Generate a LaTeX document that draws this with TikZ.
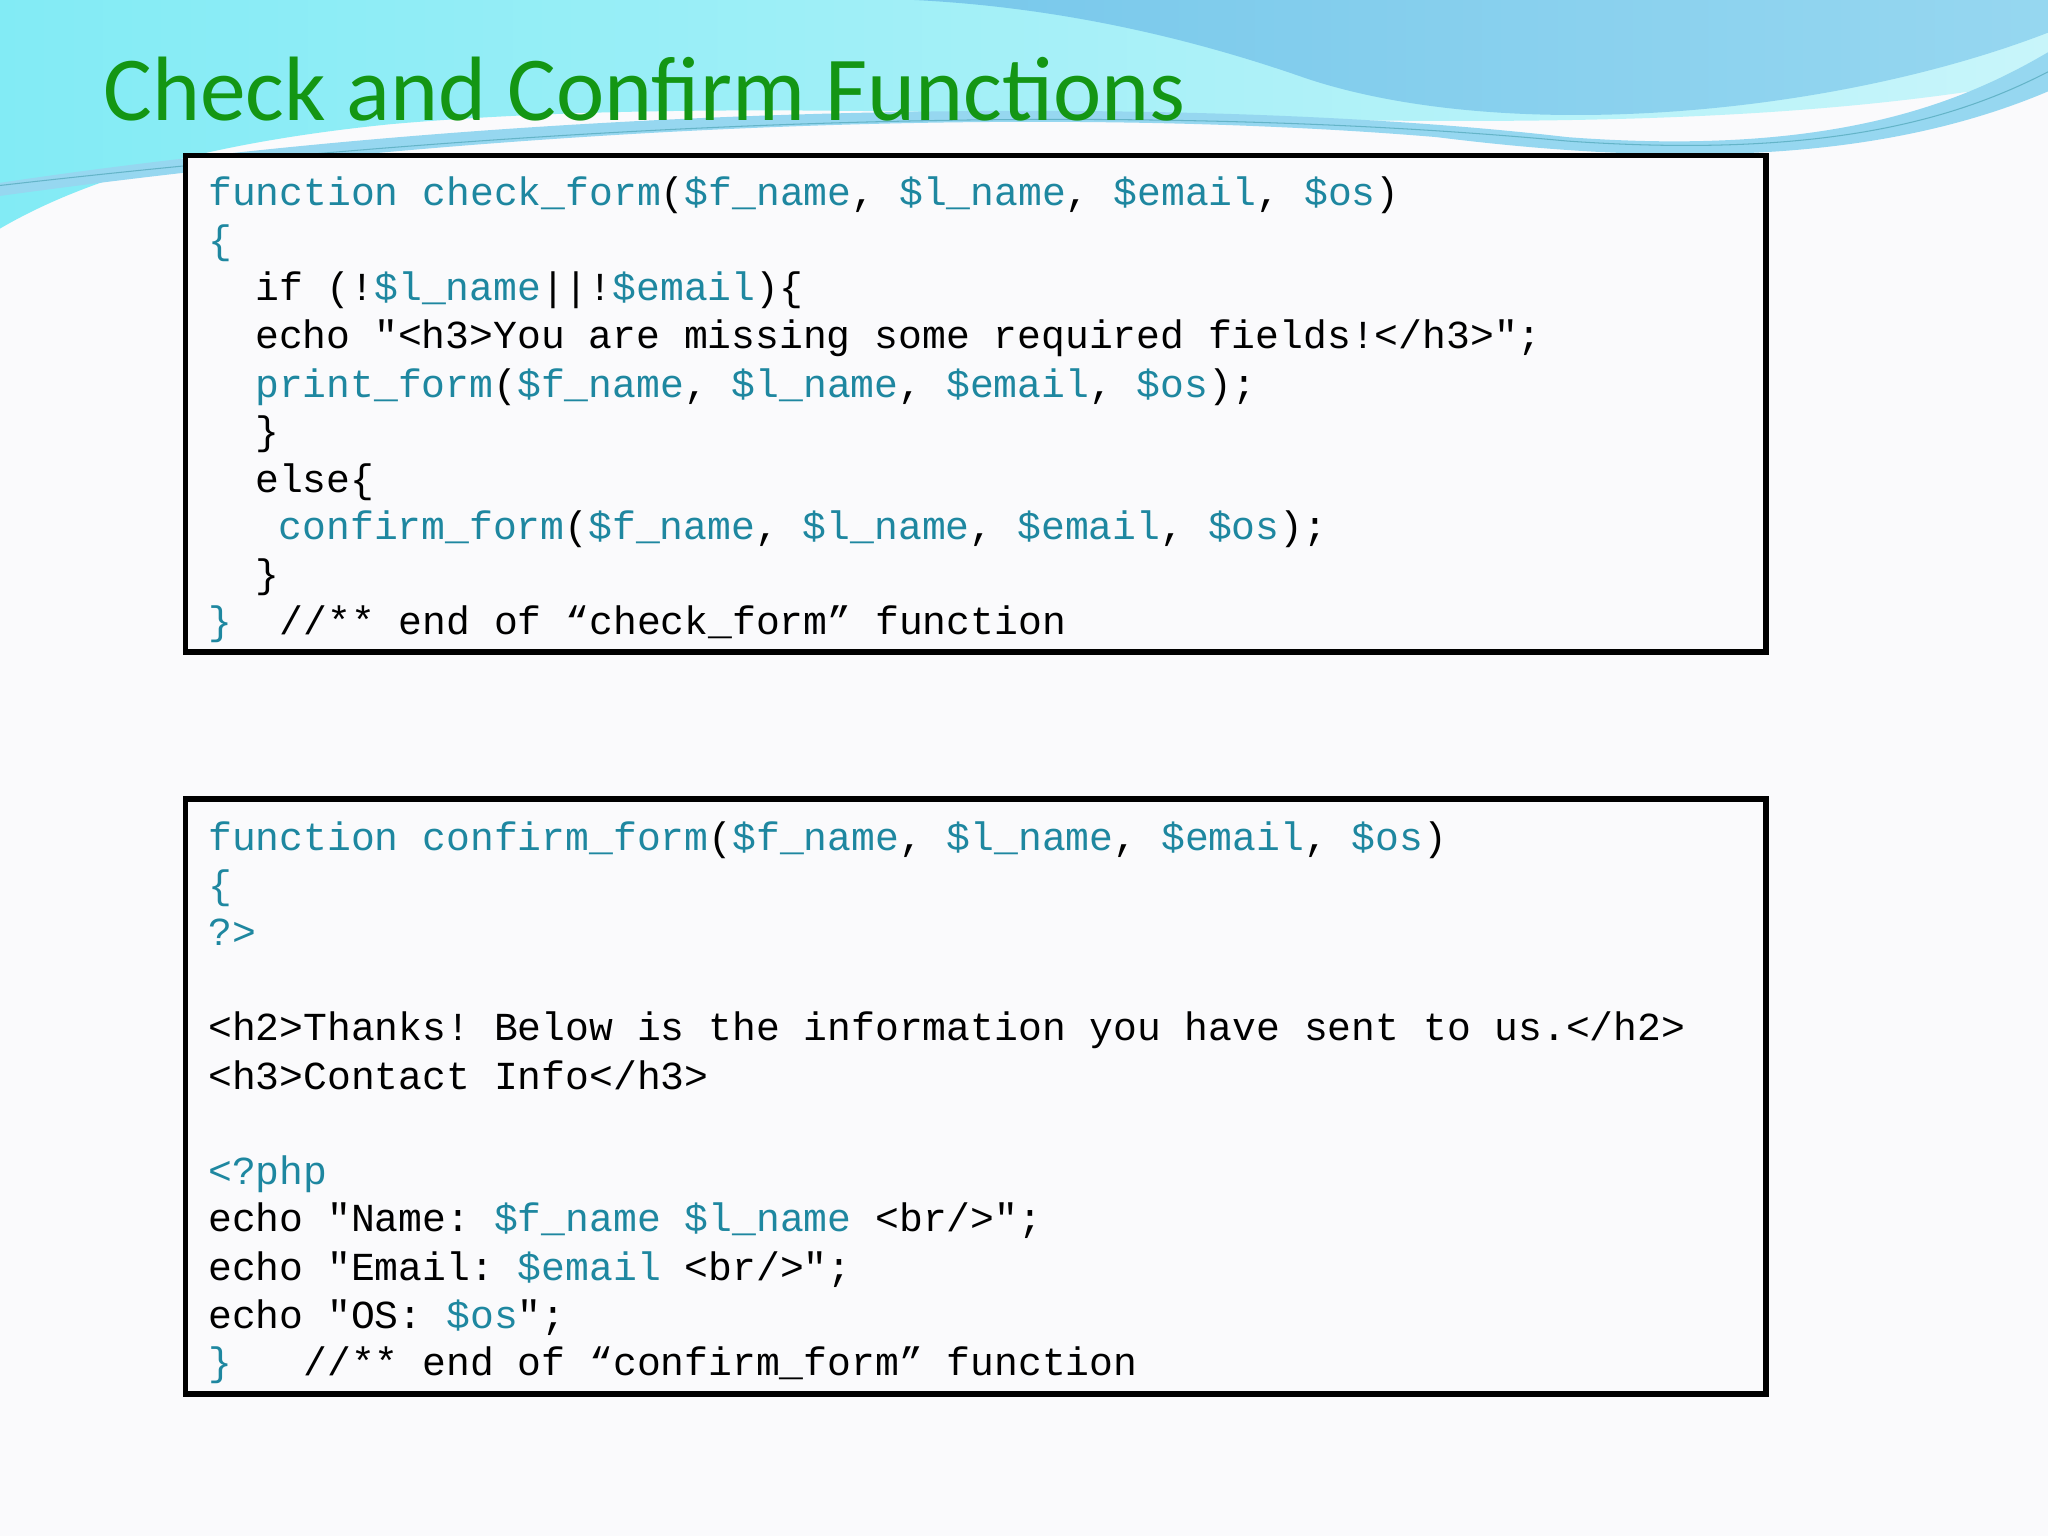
\documentclass[tikz,border=0pt]{standalone}
\usepackage{fontspec}
\newfontfamily\code{Liberation Mono}
\newfontfamily\ttl{Carlito}
\definecolor{kw}{RGB}{30,135,160}
\definecolor{ttlgreen}{RGB}{20,150,20}
\definecolor{bg}{RGB}{250,250,252}
\definecolor{wave1}{RGB}{130,235,245}
\definecolor{wave2}{RGB}{200,245,250}
\definecolor{wave3}{RGB}{120,200,235}
\definecolor{wave4}{RGB}{150,215,240}
\definecolor{wline}{RGB}{100,180,200}
\newcommand{\kw}[1]{\textcolor{kw}{#1}}
\frenchspacing
\begin{document}
\begin{tikzpicture}[x=0.5pt,y=-0.5pt,
  cl/.style={anchor=base west,inner sep=0,font=\code\fontsize{15.2}{18}\selectfont\frenchspacing},
  codebox/.style={draw=black,line width=2.2pt,fill=bg}]
\useasboundingbox (0,0) rectangle (1568,1176);
\fill[bg] (0,0) rectangle (1568,1176);
% top waves
\shade[left color=wave1, right color=wave2]
 (0,0) -- (1568,0) -- (1568,60) .. controls (1200,130) and (700,60) .. (300,95) .. controls (150,110) and (60,140) .. (0,175) -- cycle;
\shade[left color=wave3, right color=wave4]
 (700,0) -- (1568,0) -- (1568,25) .. controls (1400,90) and (1150,110) .. (1000,60) .. controls (900,25) and (800,5) .. (700,0) -- cycle;
\fill[wave4]
 (0,140) .. controls (400,80) and (900,70) .. (1200,105) .. controls (1400,120) and (1500,80) .. (1568,40) -- (1568,70) .. controls (1450,120) and (1300,130) .. (1100,105) .. controls (800,80) and (400,95) .. (0,150) -- cycle;
\draw[wline,thin] (0,142) .. controls (500,85) and (900,80) .. (1200,108) .. controls (1400,122) and (1500,90) .. (1568,55);
\node[anchor=base west,inner sep=0,text=ttlgreen,font=\ttl\fontsize{35}{40}\selectfont] (title) at (79,92) {Check and Confirm Functions};
% boxes
\draw[codebox] (142,119) rectangle (1352,499);
\draw[codebox] (142,612) rectangle (1352,1067);
% box 1
\node[cl] (a1) at (159,157) {\kw{function check\_form}(\kw{\$f\_name}, \kw{\$l\_name}, \kw{\$email}, \kw{\$os})};
\node[cl] (a2) at (159,194) {\kw{\{}};
\node[cl] (a3) at (195,230) {if (!\kw{\$l\_name}||!\kw{\$email})\{};
\node[cl] (a4) at (195,267) {echo "<h3>You are missing some required fields!</h3>";};
\node[cl] (a5) at (195,304) {\kw{print\_form}(\kw{\$f\_name}, \kw{\$l\_name}, \kw{\$email}, \kw{\$os});};
\node[cl] (a6) at (195,340) {\}};
\node[cl] (a7) at (195,377) {else\{};
\node[cl] (a8) at (213,413) {\kw{confirm\_form}(\kw{\$f\_name}, \kw{\$l\_name}, \kw{\$email}, \kw{\$os});};
\node[cl] (a9) at (195,450) {\}};
\node[cl] (a10) at (159,486) {\kw{\}}\ \ //** end of “check\_form” function};
% box 2
\node[cl] (c1) at (159,651) {\kw{function confirm\_form}(\kw{\$f\_name}, \kw{\$l\_name}, \kw{\$email}, \kw{\$os})};
\node[cl] (c2) at (159,688) {\kw{\{}};
\node[cl] (c3) at (159,724) {\kw{?>}};
\node[cl] (c4) at (159,797) {<h2>Thanks! Below is the information you have sent to us.</h2>};
\node[cl] (c5) at (159,834) {<h3>Contact Info</h3>};
\node[cl] (c6) at (159,907) {\kw{<?php}};
\node[cl] (c7) at (159,943) {echo "Name: \kw{\$f\_name \$l\_name} <br/>";};
\node[cl] (c8) at (159,980) {echo "Email: \kw{\$email} <br/>";};
\node[cl] (c9) at (159,1017) {echo "OS: \kw{\$os}";};
\node[cl] (c10) at (159,1053) {\kw{\}}\ \ \ //** end of “confirm\_form” function};
\end{tikzpicture}
\end{document}
